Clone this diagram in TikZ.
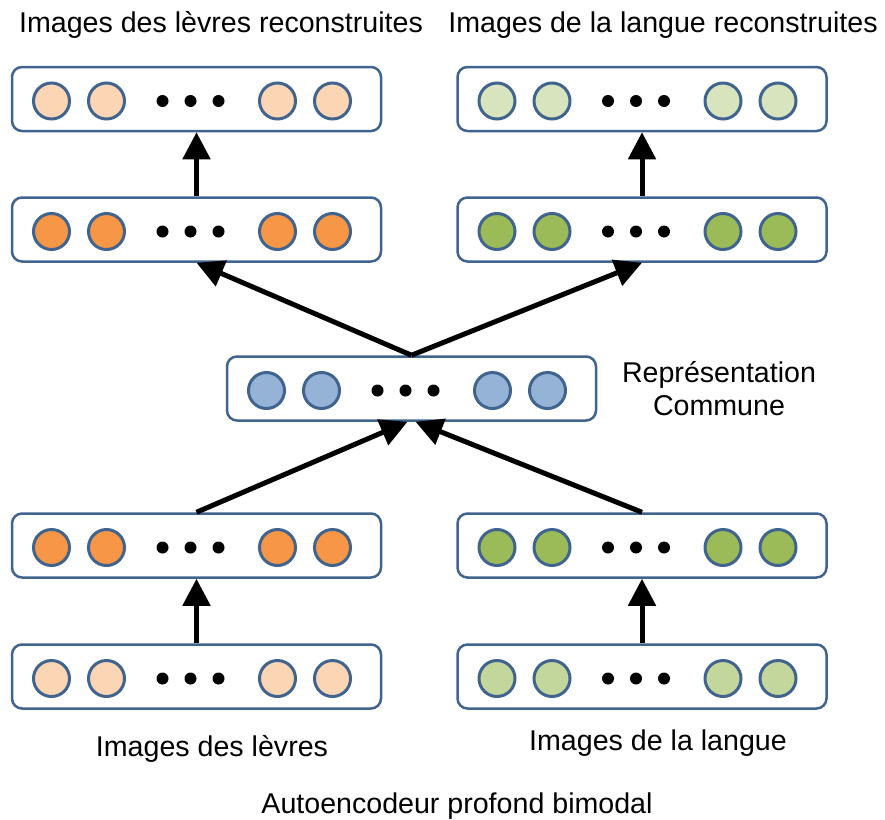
\documentclass[tikz,border=0pt]{standalone}
\usepackage{fontspec}
\setmainfont{Liberation Sans}
\usetikzlibrary{arrows.meta,calc}
\definecolor{boxblue}{HTML}{41648E}
\definecolor{orangelight}{HTML}{FCD5B5}
\definecolor{orangedark}{HTML}{F79646}
\definecolor{greenlight}{HTML}{D7E4BD}
\definecolor{greenmid}{HTML}{C3D69B}
\definecolor{greendark}{HTML}{9BBB59}
\definecolor{bluemid}{HTML}{95B3D7}
\newcommand\nnlayer[4]{%
  \node[layerbox] (#1) at (#2,#3) {};
  \foreach \k/\dx in {a/-145,b/-90,c/81,d/136}
    \node[unitc, fill=#4] (#1-\k) at ($(#1.center)+(\dx,2)$) {};
  \foreach \k/\dx in {1/-34,2/-6,3/22}
    \node[dotn] (#1-dot\k) at ($(#1.center)+(\dx,2)$) {};
}
\begin{document}
\begin{tikzpicture}[x=1pt,y=-1pt,
  layerbox/.style={draw=boxblue, line width=2.5pt, rounded corners=10pt,
    minimum width=369pt, minimum height=64pt, inner sep=0pt, fill=white},
  unitc/.style={circle, draw=boxblue, line width=3pt, minimum size=36pt, inner sep=0pt},
  dotn/.style={circle, fill=black, minimum size=12pt, inner sep=0pt},
  arr/.style={line width=5pt, -{Triangle[length=27pt,width=27pt]}},
  lbl/.style={font=\fontsize{28.6}{33}\selectfont, inner sep=0pt, anchor=base, align=center}]
\useasboundingbox (0,0) rectangle (885,819);
% layers
\nnlayer{r1l}{196.5}{99}{orangelight}
\nnlayer{r1r}{642}{99}{greenlight}
\nnlayer{r2l}{196.5}{229.5}{orangedark}
\nnlayer{r2r}{642}{229.5}{greendark}
\nnlayer{mid}{411.5}{388.5}{bluemid}
\nnlayer{r4l}{196.5}{545.5}{orangedark}
\nnlayer{r4r}{642}{545.5}{greendark}
\nnlayer{r5l}{196.5}{676.5}{orangelight}
\nnlayer{r5r}{642}{676.5}{greenmid}
% arrows
\draw[arr] (r5l.north) -- (r4l.south);
\draw[arr] (r5r.north) -- (r4r.south);
\draw[arr] (r4l.north) -- ($(mid.south)+(-4,0)$);
\draw[arr] (r4r.north) -- ($(mid.south)+(4,0)$);
\draw[arr] (mid.north) -- (r2l.south);
\draw[arr] (mid.north) -- (r2r.south);
\draw[arr] (r2l.north) -- (r1l.south);
\draw[arr] (r2r.north) -- (r1r.south);
% labels
\node[lbl] (t1) at (221,32) {Images des lèvres reconstruites};
\node[lbl] (t2) at (663,32) {Images de la langue reconstruites};
\node[lbl] (t3) at (719,415) {Représentation\\Commune};
\node[lbl] (t4) at (212,756) {Images des lèvres};
\node[lbl] (t5) at (658,750) {Images de la langue};
\node[lbl] (t6) at (457,813) {Autoencodeur profond bimodal};
\end{tikzpicture}
\end{document}
